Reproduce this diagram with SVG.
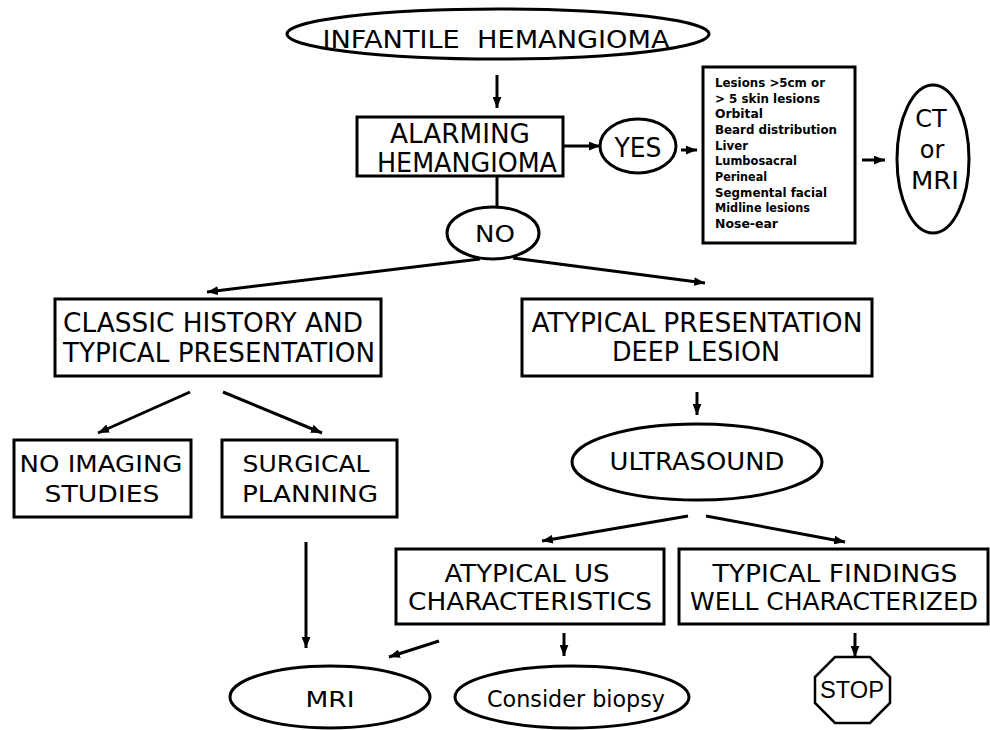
<svg xmlns="http://www.w3.org/2000/svg" width="990" height="730" viewBox="0 0 990 730">
<defs>
<marker id="ah" viewBox="0 0 10 8" refX="10" refY="4" markerWidth="11" markerHeight="9" markerUnits="userSpaceOnUse" orient="auto">
<path d="M0,0 L10,4 L0,8 z" fill="#000"/>
</marker>
<style>
.n{fill:#fff;stroke:#000;stroke-width:3}
.t{font-family:"DejaVu Sans",sans-serif;fill:#000;text-anchor:middle}
.s{font-family:"DejaVu Sans",sans-serif;font-weight:bold;font-size:12.5px;fill:#000}
.c line{stroke:#000;stroke-width:3;fill:none}
.c .a{marker-end:url(#ah)}
</style>
</defs>
<rect width="990" height="730" fill="#fff"/>

<g id="connectors" class="c">
<line class="a" x1="497" y1="75" x2="497" y2="108"/>
<line class="a" x1="563" y1="146" x2="600" y2="146"/>
<line class="a" x1="681" y1="150" x2="697" y2="150"/>
<line class="a" x1="862" y1="160" x2="885" y2="160"/>
<line x1="497" y1="176" x2="497" y2="207"/>
<line class="a" x1="480" y1="259" x2="207" y2="292"/>
<line class="a" x1="513" y1="258" x2="705" y2="283"/>
<line class="a" x1="697" y1="392" x2="697" y2="415"/>
<line class="a" x1="190" y1="392" x2="98" y2="433"/>
<line class="a" x1="223" y1="392" x2="322" y2="433"/>
<line class="a" x1="306" y1="542" x2="306" y2="648"/>
<line class="a" x1="688" y1="516" x2="542" y2="541"/>
<line class="a" x1="706" y1="516" x2="845" y2="542"/>
<line class="a" x1="439" y1="641" x2="389" y2="657"/>
<line class="a" x1="564" y1="633" x2="564" y2="656"/>
<line class="a" x1="855" y1="633" x2="855" y2="657"/>
</g>

<g id="infantile">
<ellipse class="n" cx="498" cy="34" rx="211" ry="25"/>
<text class="t" x="496" y="48" font-size="25" textLength="347" lengthAdjust="spacingAndGlyphs">INFANTILE&#160; HEMANGIOMA</text>
</g>

<g id="alarming">
<rect class="n" x="357" y="117" width="206" height="59"/>
<text class="t" x="460" y="143" font-size="27" textLength="140" lengthAdjust="spacingAndGlyphs">ALARMING</text>
<text class="t" x="467" y="172" font-size="27" textLength="180" lengthAdjust="spacingAndGlyphs">HEMANGIOMA</text>
</g>

<g id="yes">
<ellipse class="n" cx="638" cy="146" rx="38" ry="27"/>
<text class="t" x="638" y="157" font-size="27" textLength="47" lengthAdjust="spacingAndGlyphs">YES</text>
</g>

<g id="lesions">
<rect class="n" x="703" y="67" width="152" height="176"/>
<text class="s" x="715" y="87" textLength="110" lengthAdjust="spacingAndGlyphs">Lesions &gt;5cm or</text>
<text class="s" x="715" y="103" textLength="105" lengthAdjust="spacingAndGlyphs">&gt; 5 skin lesions</text>
<text class="s" x="715" y="118" textLength="48" lengthAdjust="spacingAndGlyphs">Orbital</text>
<text class="s" x="715" y="134" textLength="122" lengthAdjust="spacingAndGlyphs">Beard distribution</text>
<text class="s" x="715" y="150" textLength="33" lengthAdjust="spacingAndGlyphs">Liver</text>
<text class="s" x="715" y="165" textLength="82" lengthAdjust="spacingAndGlyphs">Lumbosacral</text>
<text class="s" x="715" y="181" textLength="52" lengthAdjust="spacingAndGlyphs">Perineal</text>
<text class="s" x="715" y="197" textLength="112" lengthAdjust="spacingAndGlyphs">Segmental facial</text>
<text class="s" x="715" y="212" textLength="95" lengthAdjust="spacingAndGlyphs">Midline lesions</text>
<text class="s" x="715" y="228" textLength="63" lengthAdjust="spacingAndGlyphs">Nose-ear</text>
</g>

<g id="ctmri">
<ellipse class="n" cx="933" cy="159" rx="36" ry="74"/>
<text class="t" x="931" y="127" font-size="24">CT</text>
<text class="t" x="932" y="158" font-size="24">or</text>
<text class="t" x="935" y="189" font-size="24" textLength="48" lengthAdjust="spacingAndGlyphs">MRI</text>
</g>

<g id="no">
<ellipse class="n" cx="493" cy="233" rx="46" ry="26"/>
<text class="t" x="495" y="242" font-size="23" textLength="40" lengthAdjust="spacingAndGlyphs">NO</text>
</g>

<g id="classic">
<rect class="n" x="55" y="299" width="326" height="77"/>
<text class="t" x="213" y="332" font-size="26" textLength="300" lengthAdjust="spacingAndGlyphs">CLASSIC HISTORY AND</text>
<text class="t" x="219" y="362" font-size="26" textLength="312" lengthAdjust="spacingAndGlyphs">TYPICAL PRESENTATION</text>
</g>

<g id="atypical">
<rect class="n" x="522" y="299" width="350" height="77"/>
<text class="t" x="697" y="332" font-size="26" textLength="331" lengthAdjust="spacingAndGlyphs">ATYPICAL PRESENTATION</text>
<text class="t" x="696" y="361" font-size="26" textLength="168" lengthAdjust="spacingAndGlyphs">DEEP LESION</text>
</g>

<g id="ultrasound">
<ellipse class="n" cx="697" cy="462" rx="125" ry="38"/>
<text class="t" x="697" y="470" font-size="25" textLength="175" lengthAdjust="spacingAndGlyphs">ULTRASOUND</text>
</g>

<g id="noimaging">
<rect class="n" x="14" y="440" width="177" height="77"/>
<text class="t" x="101" y="472" font-size="23" textLength="163" lengthAdjust="spacingAndGlyphs">NO IMAGING</text>
<text class="t" x="102" y="502" font-size="23" textLength="115" lengthAdjust="spacingAndGlyphs">STUDIES</text>
</g>

<g id="surgical">
<rect class="n" x="222" y="440" width="175" height="77"/>
<text class="t" x="306" y="472" font-size="23" textLength="127" lengthAdjust="spacingAndGlyphs">SURGICAL</text>
<text class="t" x="310" y="502" font-size="23" textLength="136" lengthAdjust="spacingAndGlyphs">PLANNING</text>
</g>

<g id="atypicalus">
<rect class="n" x="396" y="549" width="268" height="75"/>
<text class="t" x="527" y="582" font-size="24" textLength="165" lengthAdjust="spacingAndGlyphs">ATYPICAL US</text>
<text class="t" x="530" y="610" font-size="24" textLength="244" lengthAdjust="spacingAndGlyphs">CHARACTERISTICS</text>
</g>

<g id="typical">
<rect class="n" x="679" y="549" width="309" height="75"/>
<text class="t" x="835" y="582" font-size="24" textLength="245" lengthAdjust="spacingAndGlyphs">TYPICAL FINDINGS</text>
<text class="t" x="834" y="610" font-size="24" textLength="288" lengthAdjust="spacingAndGlyphs">WELL CHARACTERIZED</text>
</g>

<g id="mri">
<ellipse class="n" cx="330" cy="697" rx="100" ry="31"/>
<text class="t" x="330" y="707" font-size="22" textLength="49" lengthAdjust="spacingAndGlyphs">MRI</text>
</g>

<g id="biopsy">
<ellipse class="n" cx="572" cy="697" rx="117" ry="31"/>
<text class="t" x="576" y="707" font-size="23" textLength="178" lengthAdjust="spacingAndGlyphs">Consider biopsy</text>
</g>

<g id="stop">
<polygon points="835,657 870,657 890,677 890,703 870,723 835,723 815,703 815,677" fill="#fff" stroke="#000" stroke-width="2.5"/>
<text x="852" y="698" font-family="Liberation Sans, sans-serif" font-size="23" text-anchor="middle" textLength="64" lengthAdjust="spacingAndGlyphs">STOP</text>
</g>
</svg>
